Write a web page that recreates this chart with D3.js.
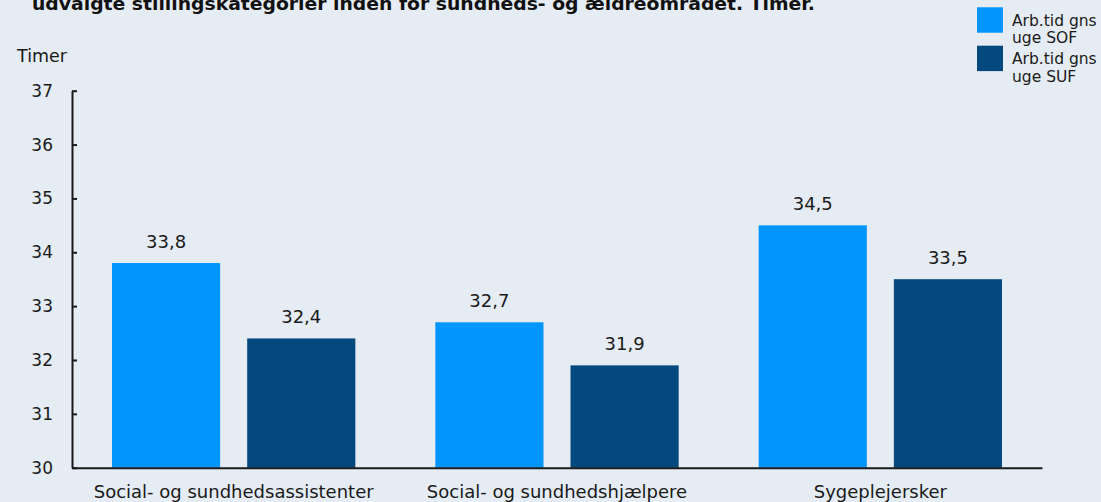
<!DOCTYPE html>
<html>
<head>
<meta charset="utf-8">
<script src="https://cdn.jsdelivr.net/npm/d3@7"></script>
<style>
  body { margin: 0; background: #e5ecf3; }
  svg { display: block; font-family: "DejaVu Sans", sans-serif; }
</style>
</head>
<body>
<script>
// data
var categories = ["Social- og sundhedsassistenter", "Social- og sundhedshjælpere", "Sygeplejersker"];
var seriesNames = ["Arb.tid gns uge SOF", "Arb.tid gns uge SUF"];
var sof = [33.8, 32.7, 34.5];
var suf = [32.4, 31.9, 33.5];
var yTicks = [30, 31, 32, 33, 34, 35, 36, 37];
var colors = ["#0095fc", "#03497d"];
var titleText = "udvalgte stillingskategorier inden for sundheds- og ældreområdet. Timer.";

var W = 1101, H = 502;
var m = {top: 90.7, right: 59, bottom: 34.3, left: 72};
var ink = '#1a1a1a';

var svg = d3.select('body').append('svg')
  .attr('width', W).attr('height', H);

svg.append('rect').attr('width', W).attr('height', H).attr('fill', '#e5ecf3');

var rows = categories.map(function(c, i) {
  return {cat: c, vals: [sof[i], suf[i]]};
});

var x0 = d3.scaleBand()
  .domain(categories)
  .range([m.left, W - m.right])
  .paddingInner(0).paddingOuter(0);

var x1 = d3.scaleBand()
  .domain([0, 1])
  .range([40, x0.bandwidth() - 40])
  .paddingInner(0.2);

var y = d3.scaleLinear()
  .domain([30, 37])
  .range([H - m.bottom, m.top]);

var fmt = function(v) { return d3.format('.1f')(v).replace('.', ','); };

// title (only its last line is inside the picture)
svg.append('text')
  .attr('x', 32).attr('y', 10)
  .attr('textLength', 783).attr('lengthAdjust', 'spacingAndGlyphs')
  .style('font-weight', 700)
  .style('font-size', '18px')
  .attr('fill', '#111')
  .text(titleText);

svg.append('text')
  .attr('x', 17).attr('y', 61.7)
  .style('font-size', '17.5px')
  .attr('fill', ink)
  .text('Timer');

// bars
var g = svg.selectAll('g.grp').data(rows).enter().append('g')
  .attr('class', 'grp')
  .attr('transform', function(d) { return 'translate(' + x0(d.cat) + ',0)'; });

g.selectAll('rect').data(function(d) { return d.vals.map(function(v, k) { return {k: k, v: v}; }); })
  .enter().append('rect')
  .attr('x', function(d) { return x1(d.k); })
  .attr('width', x1.bandwidth())
  .attr('y', function(d) { return y(d.v); })
  .attr('height', function(d) { return y(30) - y(d.v); })
  .attr('fill', function(d) { return colors[d.k]; });

g.selectAll('text.val').data(function(d) { return d.vals.map(function(v, k) { return {k: k, v: v}; }); })
  .enter().append('text')
  .attr('class', 'val')
  .attr('x', function(d) { return x1(d.k) + x1.bandwidth() / 2; })
  .attr('y', function(d) { return y(d.v) - 15; })
  .attr('text-anchor', 'middle')
  .style('font-size', '18px')
  .attr('fill', ink)
  .text(function(d) { return fmt(d.v); });

// y axis
var yAxis = svg.append('g')
  .attr('transform', 'translate(' + m.left + ',0)')
  .call(d3.axisLeft(y).tickValues(yTicks).tickFormat(d3.format('d'))
    .tickSizeInner(-5).tickSizeOuter(0).tickPadding(19));
yAxis.select('.domain').attr('stroke', ink).attr('stroke-width', 2);
yAxis.selectAll('.tick line').attr('stroke', ink).attr('stroke-width', 2);
yAxis.selectAll('.tick text')
  .style('font-size', '17px').style('font-family', '"DejaVu Sans", sans-serif')
  .attr('fill', ink);

// x axis
var xAxis = svg.append('g')
  .attr('transform', 'translate(0,' + y(30) + ')')
  .call(d3.axisBottom(x0).tickSize(0).tickPadding(17.5));
xAxis.select('.domain').attr('stroke', ink).attr('stroke-width', 2);
xAxis.selectAll('.tick text')
  .style('font-size', '18px').style('font-family', '"DejaVu Sans", sans-serif')
  .attr('fill', ink);

// legend
var leg = svg.selectAll('g.leg').data(seriesNames).enter().append('g')
  .attr('class', 'leg')
  .attr('transform', function(d, i) { return 'translate(977,' + (7.3 + i * 38.4) + ')'; });
leg.append('rect').attr('width', 26).attr('height', 25.4)
  .attr('fill', function(d, i) { return colors[i]; });
var lt = leg.append('text')
  .style('font-size', '15.5px')
  .attr('fill', ink);
lt.selectAll('tspan').data(function(d) {
    var w = d.split(' ');
    return [w.slice(0, 2).join(' '), w.slice(2).join(' ')];
  })
  .enter().append('tspan')
  .attr('x', 35)
  .attr('y', function(d, i) { return 18.4 + i * 17.7; })
  .text(function(d) { return d; });
</script>
</body>
</html>
